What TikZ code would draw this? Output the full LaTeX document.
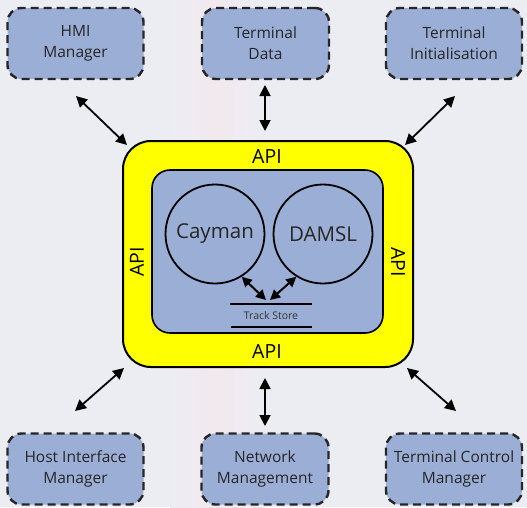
\documentclass[tikz,border=0pt]{standalone}
\usepackage{fontspec}
\setmainfont{Open Sans}
\usetikzlibrary{arrows.meta}
\definecolor{bgc}{HTML}{ECEDF3}
\definecolor{bgp}{HTML}{F1E9EE}
\definecolor{boxc}{HTML}{9BAFD6}
\definecolor{yel}{HTML}{FFFF00}
\tikzset{
  ext/.style={draw=black!85, fill=boxc, line width=2.4pt, dash pattern=on 8pt off 5pt,
    rounded corners=14pt, minimum width=136pt, minimum height=71pt, inner sep=0pt,
    align=center, font=\fontsize{15.5}{21}\selectfont, text=black!85},
  link/.style={line width=1.8pt, {Triangle[length=11pt,width=11pt]}-{Triangle[length=11pt,width=11pt]}},
  small/.style={line width=2pt, {Triangle[length=10pt,width=10pt]}-{Triangle[length=10pt,width=10pt]}},
  circ/.style={draw=black, line width=1.8pt, circle, minimum size=99pt, inner sep=0pt,
    font=\fontsize{20.5}{22}\selectfont, text=black!85},
  apil/.style={font=\fontsize{19.5}{20}\selectfont, text=black, inner sep=0pt},
}
\begin{document}
\begin{tikzpicture}[x=1pt,y=-1pt]
\useasboundingbox (0,0) rectangle (527,507);
\fill[bgc] (0,0) rectangle (527,507);
\shade[left color=bgc, right color=bgp] (170,0) rectangle (215,507);
\shade[left color=bgp, right color=bgc] (215,0) rectangle (265,507);
% outer modules
\node[ext] (hmi)  at (75.5,43.5) {HMI\\Manager};
\node[ext, minimum width=127pt] (tdata) at (265.5,43.5) {Terminal\\Data};
\node[ext] (tinit) at (454,43.5) {Terminal\\Initialisation};
\node[ext] (host) at (75.5,469) {Host Interface\\Manager};
\node[ext, minimum width=127pt] (net) at (265,469) {Network\\Management};
\node[ext] (tcm) at (454,469) {Terminal Control\\Manager};
% API frame
\node[draw=black, fill=yel, line width=2pt, rounded corners=28pt, minimum width=290pt,
  minimum height=226pt, inner sep=0pt] (api) at (268,254) {};
\node[draw=black, fill=boxc, line width=1.6pt, rounded corners=18pt, minimum width=231pt,
  minimum height=163pt, inner sep=0pt] (core) at (267.5,251.5) {};
\node[apil] (apit) at (267,157) {API};
\node[apil] (apib) at (267,352) {API};
\node[apil, rotate=90] (apil) at (137,262) {API};
\node[apil, rotate=-90] (apir) at (398,262) {API};
% circles
\node[circ] (cay) at (215,234) {Cayman};
\node[circ] (dam) at (323,234) {DAMSL};
% track store
\node[font=\fontsize{10.5}{12}\selectfont, text=black!80, inner sep=0pt] (ts) at (271,316) {Track Store};
\coordinate (tsa) at (230,304);
\coordinate (tsb) at (312,304);
\coordinate (tsc) at (231,327);
\coordinate (tsd) at (312,327);
\draw[line width=1.2pt] (tsa) -- (tsb);
\draw[line width=1.2pt] (tsc) -- (tsd);
\coordinate (tsl) at (266,300);
\coordinate (tsr) at (270,300);
\draw[small] (cay.302) -- (tsl);
\draw[small] (dam.238) -- (tsr);
% links
\coordinate (a1) at (76,96);
\coordinate (a2) at (127,145);
\draw[link] (a1) -- (a2);
\coordinate (b1) at (265,85);
\coordinate (b2) at (265,131);
\draw[link] (b1) -- (b2);
\coordinate (c1) at (455,96);
\coordinate (c2) at (405,145);
\draw[link] (c1) -- (c2);
\coordinate (d1) at (124,368);
\coordinate (d2) at (75,411);
\draw[link] (d1) -- (d2);
\coordinate (e1) at (265,378);
\coordinate (e2) at (265,426);
\draw[link] (e1) -- (e2);
\coordinate (f1) at (407,368);
\coordinate (f2) at (456,411);
\draw[link] (f1) -- (f2);
\end{tikzpicture}
\end{document}
